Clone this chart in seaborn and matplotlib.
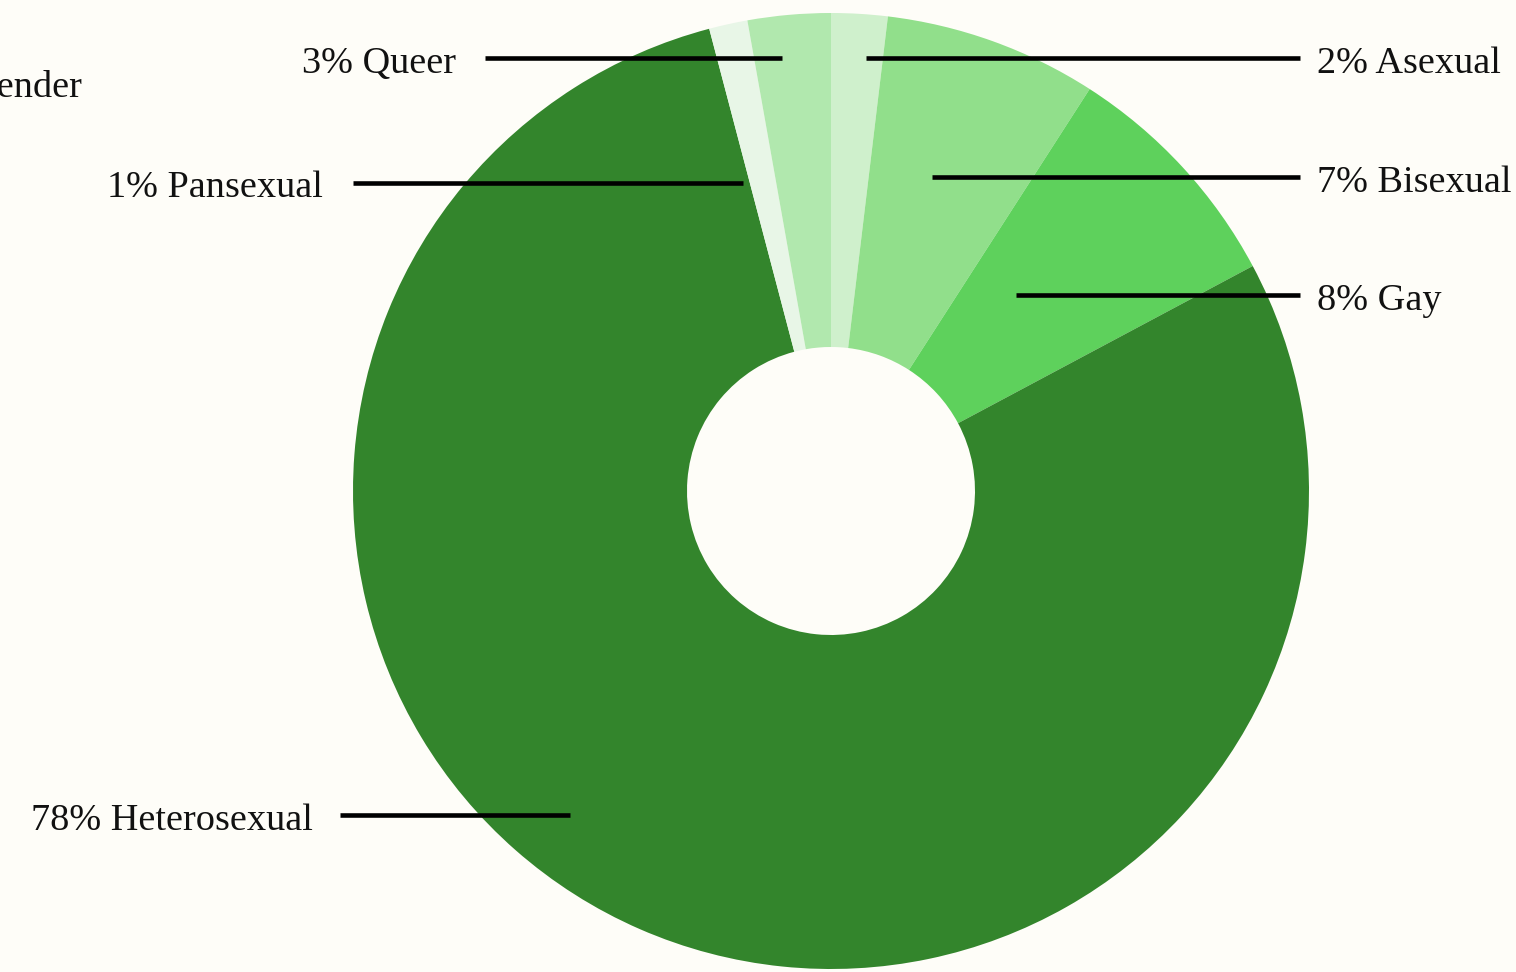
import matplotlib
matplotlib.use("Agg")
import matplotlib.pyplot as plt
import seaborn as sns

# slice shares (%), clockwise from 12 o'clock, and the printed percentages
groups = ["Asexual", "Bisexual", "Gay", "Heterosexual", "Pansexual", "Queer"]
shares = [1.9, 7.2, 8.1, 78.7, 1.3, 2.8]
pct_labels = [2, 7, 8, 78, 1, 3]
colors = ["#cff0cc", "#91df8b", "#5ed15c", "#33852c", "#e8f6e7", "#b1e8ae"]

BG = "#fefdf8"
W, H = 1516, 972

# label layout in pixel coords (top-left origin):
# (line x0, line x1, line y, text x, text baseline, ha)
layout = {
    "Asexual":      (866, 1300, 58, 1317, 73, "left"),
    "Bisexual":     (932, 1300, 177, 1317, 192, "left"),
    "Gay":          (1016, 1300, 295, 1317, 310, "left"),
    "Heterosexual": (340, 570, 815, 313, 830, "right"),
    "Pansexual":    (353, 743, 183, 323, 197, "right"),
    "Queer":        (485, 782, 58, 456, 73, "right"),
}

sns.set_theme(style="white")
plt.rcParams["font.family"] = ["Liberation Serif", "DejaVu Serif"]

fig = plt.figure(figsize=(W / 100, H / 100), dpi=100, facecolor=BG)
ax = fig.add_axes([0, 0, 1, 1])
ax.set_facecolor(BG)

cx, cy, r_out, r_in = 831, H - 491, 478, 144
ax.pie(shares, colors=colors, startangle=90, counterclock=False,
       center=(cx, cy), radius=r_out,
       wedgeprops=dict(width=r_out - r_in, linewidth=0))

for name, pct in zip(groups, pct_labels):
    x0, x1, ly, tx, ty, ha = layout[name]
    ax.plot([x0, x1], [H - ly, H - ly], color="black", lw=3.3,
            solid_capstyle="butt", zorder=5)
    ax.text(tx, H - ty, f"{pct}% {name}", ha=ha, va="baseline",
            fontsize=27.5, color="#111111", zorder=6)

# partly cut-off heading at the left edge (as in the original)
ax.text(82, H - 97, "Gender", ha="right", va="baseline", fontsize=27.5,
        color="#111111")

ax.set_xlim(0, W)
ax.set_ylim(0, H)
ax.set_aspect("auto")
ax.axis("off")

fig.savefig("out.png", dpi=100, facecolor=BG)
